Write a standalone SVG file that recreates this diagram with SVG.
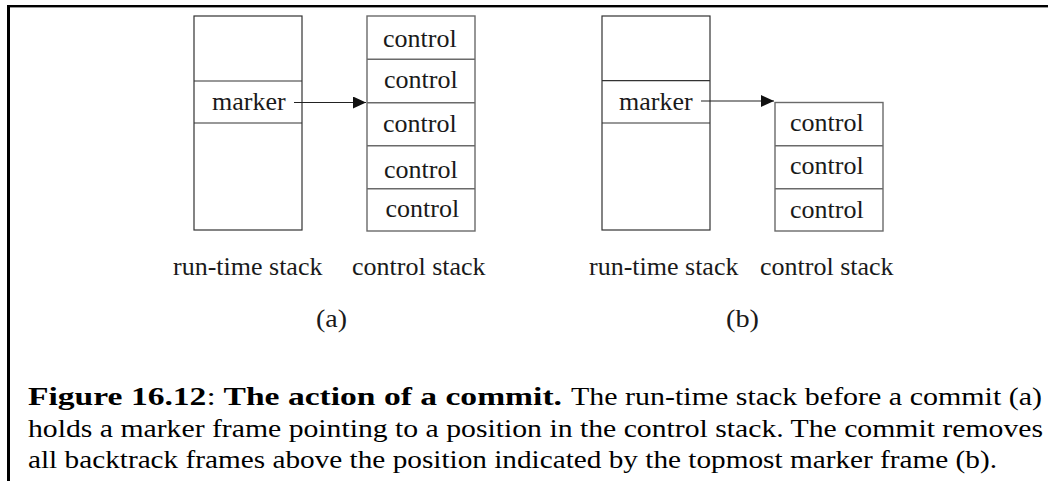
<svg xmlns="http://www.w3.org/2000/svg" width="1048" height="481" viewBox="0 0 1048 481">
<defs>
<style>
.t{font-family:"Liberation Serif","Times New Roman",serif;font-size:26px;fill:#1a1a1a}
.cap{font-family:"Liberation Serif","Times New Roman",serif;font-size:26px;fill:#000}
.b{font-weight:bold}
.rt{fill:#fff;stroke:#333;stroke-width:1.2}
.cs{fill:#fff;stroke:#6a6a6a;stroke-width:1.4}
.dl{stroke:#333;stroke-width:1.2}
.dc{stroke:#6a6a6a;stroke-width:1.4}
.ar{stroke:#222;stroke-width:1.2;fill:none}
</style>
<marker id="ah" markerWidth="14" markerHeight="12" refX="13" refY="6" orient="auto" markerUnits="userSpaceOnUse">
<path d="M0,0 L13,6 L0,12 Z" fill="#111"/>
</marker>
</defs>
<rect x="0" y="0" width="1048" height="481" fill="#fff"/>
<g id="frame">
<rect x="7" y="5" width="1041" height="2.4" fill="#000"/>
<rect x="7" y="5" width="3" height="476" fill="#000"/>
</g>
<g id="runtime-a">
<rect class="rt" x="194" y="16" width="108" height="214"/>
<line class="dl" x1="194" y1="81" x2="302" y2="81"/>
<line class="dl" x1="194" y1="123" x2="302" y2="123"/>
<text class="t" x="212" y="110">marker</text>
</g>
<g id="control-a">
<rect class="cs" x="367" y="16" width="108" height="215"/>
<line class="dc" x1="367" y1="59.3" x2="475" y2="59.3"/>
<line class="dc" x1="367" y1="102.7" x2="475" y2="102.7"/>
<line class="dc" x1="367" y1="145.7" x2="475" y2="145.7"/>
<line class="dc" x1="367" y1="188.7" x2="475" y2="188.7"/>
<text class="t" x="383" y="47">control</text>
<text class="t" x="384" y="88">control</text>
<text class="t" x="383" y="132">control</text>
<text class="t" x="384" y="178">control</text>
<text class="t" x="385.5" y="217">control</text>
</g>
<g id="runtime-b">
<rect class="rt" x="602" y="16" width="108" height="214"/>
<line class="dl" x1="602" y1="80.7" x2="710" y2="80.7"/>
<line class="dl" x1="602" y1="123" x2="710" y2="123"/>
<text class="t" x="619" y="110">marker</text>
</g>
<g id="control-b">
<rect class="cs" x="775" y="102.5" width="108" height="128.5"/>
<line class="dc" x1="775" y1="145.7" x2="883" y2="145.7"/>
<line class="dc" x1="775" y1="188.7" x2="883" y2="188.7"/>
<text class="t" x="790" y="131">control</text>
<text class="t" x="790" y="173.5">control</text>
<text class="t" x="790" y="218">control</text>
</g>
<g id="connectors">
<line class="ar" x1="294" y1="102.5" x2="366" y2="102.5" marker-end="url(#ah)"/>
<line class="ar" x1="701" y1="101" x2="774" y2="101" marker-end="url(#ah)"/>
</g>
<g id="labels">
<text class="t" x="173" y="275">run-time stack</text>
<text class="t" x="352" y="275">control stack</text>
<text class="t" x="316" y="327" textLength="31" lengthAdjust="spacingAndGlyphs">(a)</text>
<text class="t" x="589" y="275">run-time stack</text>
<text class="t" x="760" y="275">control stack</text>
<text class="t" x="726" y="327" textLength="33" lengthAdjust="spacingAndGlyphs">(b)</text>
</g>
<g id="caption">
<text class="cap b" x="28" y="405" textLength="534" lengthAdjust="spacingAndGlyphs">Figure 16.12<tspan font-weight="normal">:</tspan> The action of a commit.</text>
<text class="cap" x="571" y="405" textLength="471" lengthAdjust="spacingAndGlyphs">The run-time stack before a commit (a)</text>
<text class="cap" x="28" y="437" textLength="1015" lengthAdjust="spacingAndGlyphs">holds a marker frame pointing to a position in the control stack. The commit removes</text>
<text class="cap" x="28" y="468" textLength="969" lengthAdjust="spacingAndGlyphs">all backtrack frames above the position indicated by the topmost marker frame (b).</text>
</g>
</svg>
